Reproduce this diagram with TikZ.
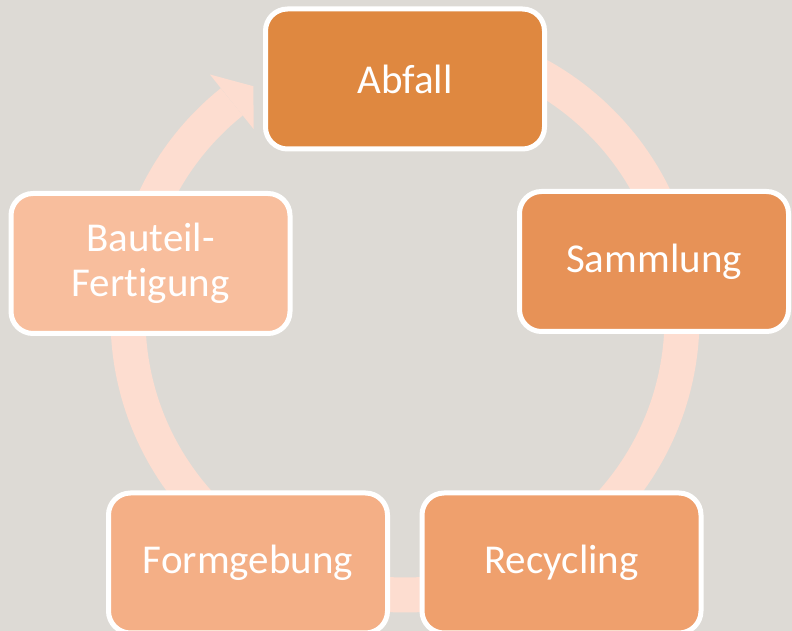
\documentclass[tikz,border=0pt]{standalone}
\usepackage{fontspec}
\setmainfont{Carlito}[Ligatures=NoCommon]
\usetikzlibrary{calc}
\definecolor{bgc}{HTML}{DDDAD5}
\definecolor{ringc}{HTML}{FDDDD0}
\definecolor{cA}{HTML}{DF8840}
\definecolor{cB}{HTML}{E79257}
\definecolor{cC}{HTML}{EFA06D}
\definecolor{cD}{HTML}{F4AF86}
\definecolor{cE}{HTML}{F8BE9D}
\tikzset{
  stepbox/.style={draw=white, line width=5pt, rounded corners=22pt, text=white,
    minimum width=279pt, minimum height=140pt, inner sep=0pt, align=center,
    font=\fontsize{41}{45}\selectfont},
  ringline/.style={draw=ringc, line width=35pt},
}
\begin{document}
\begin{tikzpicture}[x=1pt,y=1pt]
\fill[bgc] (0,0) rectangle (792,631);
\useasboundingbox (0,0) rectangle (792,631);
\coordinate (c) at (405,313);
% ring with arrow
\draw[ringline] ($(c)+(90:277)$) arc[start angle=90, end angle=-231.3, radius=277];
\fill[ringc] ($(c)+(128.7:312)$) -- ($(c)+(123.2:277)$) -- ($(c)+(128.7:242)$) -- cycle;
% boxes
\node[stepbox, fill=cA] (abfall) at (405,552) {Abfall};
\node[stepbox, fill=cB, minimum width=269pt] (sammlung) at (654,369.5) {\raisebox{-3pt}{Sammlung}};
\node[stepbox, fill=cC] (recycling) at (561.5,68) {Recycling};
\node[stepbox, fill=cD] (formgebung) at (248,68) {Formgebung};
\node[stepbox, fill=cE] (bauteil) at (150.5,367.5) {Bauteil-\\Fertigung};
\end{tikzpicture}
\end{document}
